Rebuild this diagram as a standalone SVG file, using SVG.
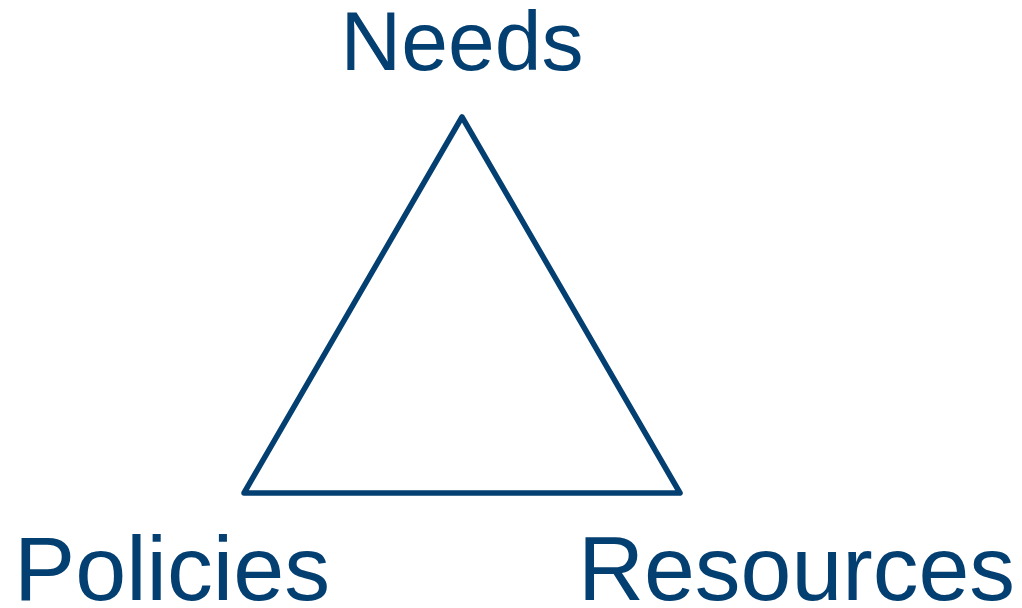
<svg xmlns="http://www.w3.org/2000/svg" width="1022" height="608" viewBox="0 0 1022 608">
<style>
.lbl{font-family:"Liberation Sans",Arial,sans-serif;fill:#043f71}
.edge{fill:none;stroke:#043f71;stroke-width:5.5;stroke-linejoin:round;stroke-linecap:round}
</style>
<rect width="1022" height="608" fill="#fff"/>
<g id="connectors">
<polygon class="edge" points="462,117 680,493 244,493"/>
</g>
<g id="needs"><text class="lbl" x="462" y="70" font-size="84" text-anchor="middle">Needs</text></g>
<g id="policies"><text class="lbl" x="14" y="600" font-size="91" textLength="316" lengthAdjust="spacingAndGlyphs">Policies</text></g>
<g id="resources"><text class="lbl" x="578" y="600" font-size="91" textLength="437" lengthAdjust="spacingAndGlyphs">Resources</text></g>
</svg>
